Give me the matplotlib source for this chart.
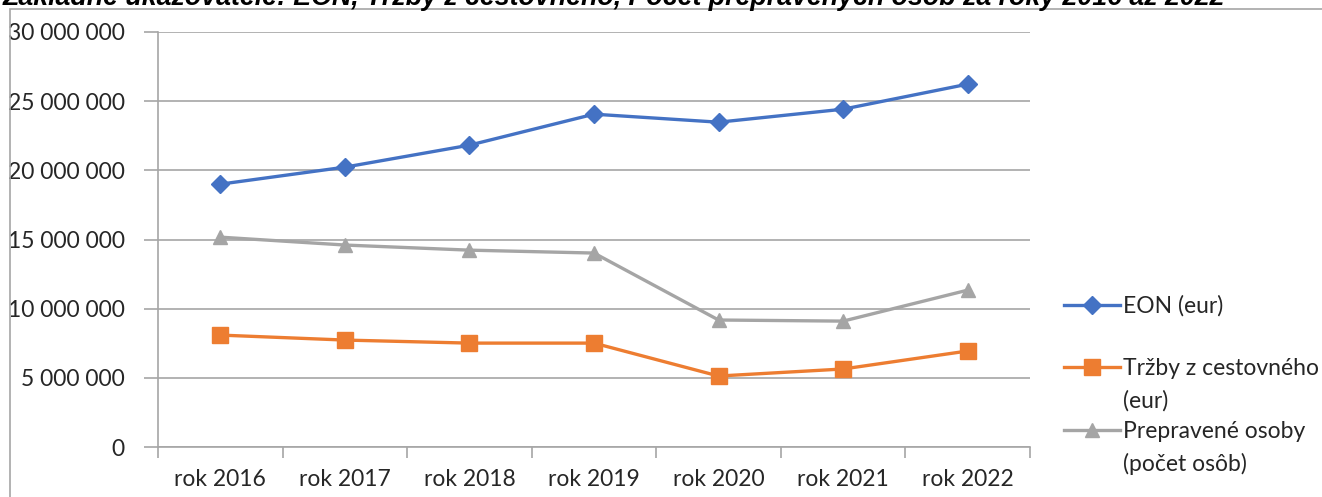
import numpy as np
import matplotlib
matplotlib.use('Agg')
import matplotlib.pyplot as plt
from matplotlib.ticker import FuncFormatter, FixedLocator
from matplotlib.patches import Rectangle
from matplotlib.lines import Line2D

plt.rcParams['font.family'] = ['Lato', 'DejaVu Sans']

years = ['rok 2016', 'rok 2017', 'rok 2018', 'rok 2019', 'rok 2020', 'rok 2021', 'rok 2022']
eon = [19.0e6, 20.23e6, 21.82e6, 24.06e6, 23.48e6, 24.42e6, 26.23e6]
trzby = [8.09e6, 7.73e6, 7.51e6, 7.51e6, 5.13e6, 5.64e6, 6.94e6]
osoby = [15.17e6, 14.6e6, 14.23e6, 14.02e6, 9.18e6, 9.1e6, 11.34e6]

title = 'Základné ukazovatele: EON, Tržby z cestovného, Počet prepravených osôb za roky 2016 až 2022'

W, H = 1322, 497
fig = plt.figure(figsize=(W / 100, H / 100), dpi=100)
ax = fig.add_axes([158 / W, 1 - 447 / H, (1030 - 158) / W, (447 - 32) / H])

x = np.arange(len(years))
l1, = ax.plot(x, eon, color='#4472C4', lw=2.4, marker='D', ms=9)
l2, = ax.plot(x, trzby, color='#ED7D31', lw=2.4, marker='s', ms=11)
l3, = ax.plot(x, osoby, color='#A5A5A5', lw=2.4, marker='^', ms=10)

ax.set_xlim(-0.5, len(years) - 0.5)
ax.set_ylim(0, 30e6)
ax.set_yticks(np.arange(0, 30e6 + 1, 5e6))
ax.yaxis.set_major_formatter(FuncFormatter(lambda v, p: f'{int(v):,}'.replace(',', ' ')))
ax.grid(axis='y', color='#a6a6a6', lw=1.2)
ax.set_axisbelow(True)

ax.set_xticks(x)
ax.set_xticklabels(years)
ax.xaxis.set_minor_locator(FixedLocator(np.arange(-0.5, len(years), 1.0)))
ax.tick_params(axis='x', which='major', length=0, pad=16, labelsize=16.5, labelcolor='#262626')
ax.tick_params(axis='x', which='minor', length=8, color='#a6a6a6', width=1.2)
ax.tick_params(axis='y', length=10, color='#a6a6a6', width=1.2, pad=14, labelsize=16.5, labelcolor='#262626')

for s in ['top', 'right']:
    ax.spines[s].set_visible(False)
for s in ['left', 'bottom']:
    ax.spines[s].set_color('#a6a6a6')
    ax.spines[s].set_linewidth(1.2)

# legend: second lines of the labels sit on rows without a handle
blank = Line2D([], [], lw=0, marker=None)
handles = [l1, blank, l2, blank, l3, blank]
labels = ['EON (eur)', ' ', 'Tržby z cestovného', '(eur)', 'Prepravené osoby', '(počet osôb)']
ax.legend(handles, labels, loc='center left', bbox_to_anchor=(1043 / W, 1 - 385 / H),
          bbox_transform=fig.transFigure, frameon=False, fontsize=16.5, labelspacing=0.45,
          handlelength=2.45, handletextpad=0.12, labelcolor='#262626')

# chart frame
fig.patches.append(Rectangle((10 / W, -0.1), 1.2, 1 - 9 / H + 0.1, transform=fig.transFigure,
                             fill=False, edgecolor='#a6a6a6', lw=1.2))

fig.text(3 / W, 1 - 5 / H, title, fontsize=19.3, fontweight='bold', fontstyle='italic',
         family='Liberation Sans', va='baseline', ha='left')

fig.savefig('out.png', dpi=100)
